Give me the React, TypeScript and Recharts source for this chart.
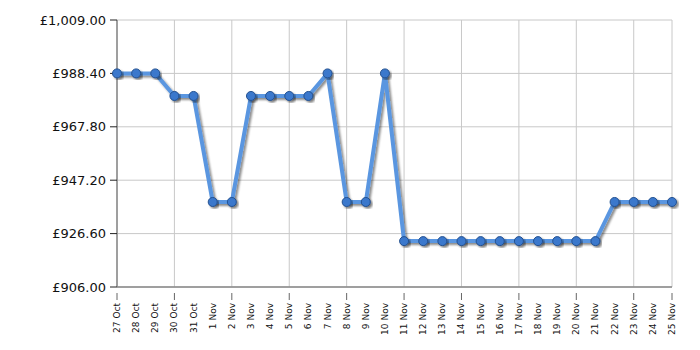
import React from 'react';
import { LineChart, Line, XAxis, YAxis, CartesianGrid } from 'recharts';

const dates = [
  '27 Oct', '28 Oct', '29 Oct', '30 Oct', '31 Oct',
  '1 Nov', '2 Nov', '3 Nov', '4 Nov', '5 Nov', '6 Nov', '7 Nov', '8 Nov', '9 Nov', '10 Nov',
  '11 Nov', '12 Nov', '13 Nov', '14 Nov', '15 Nov', '16 Nov', '17 Nov', '18 Nov', '19 Nov', '20 Nov',
  '21 Nov', '22 Nov', '23 Nov', '24 Nov', '25 Nov',
];

const prices = [
  988.4, 988.4, 988.4, 979.7, 979.7,
  938.8, 938.8, 979.7, 979.7, 979.7, 979.7, 988.4, 938.8, 938.8, 988.4,
  923.7, 923.7, 923.7, 923.7, 923.7, 923.7, 923.7, 923.7, 923.7, 923.7,
  923.7, 938.8, 938.8, 938.8, 938.8,
];

const yTicks = [906, 926.6, 947.2, 967.8, 988.4, 1009];

const data = dates.map((d, i) => ({ date: d, price: prices[i] }));

const fmt = (v: number) =>
  '£' + v.toLocaleString('en-GB', { minimumFractionDigits: 2, maximumFractionDigits: 2 });

const XTick = (props: any) => {
  const { x, y, payload, index } = props;
  return (
    <g>
      {index % 3 === 0 || index === dates.length - 1 ? (
        <line x1={x} y1={y - 2} x2={x} y2={y + 5} stroke="#666" strokeWidth={1} />
      ) : null}
      <text
        x={x}
        y={y + 8}
        transform={`rotate(-90, ${x}, ${y + 8})`}
        textAnchor="end"
        dominantBaseline="central"
        fontSize={9}
        fontFamily="DejaVu Sans, Verdana, sans-serif"
        fill="#111"
      >
        {payload.value}
      </text>
    </g>
  );
};

export default function App() {
  return (
    <div style={{ position: 'relative', width: 692, height: 342 }}>
      <svg width={0} height={0} style={{ position: 'absolute' }}>
        <defs>
          <filter id="lineShadow" x="-10%" y="-10%" width="130%" height="130%">
            <feDropShadow dx={2} dy={2} stdDeviation={1} floodColor="#000" floodOpacity={0.45} />
          </filter>
        </defs>
      </svg>
      <LineChart
        width={692}
        height={342}
        data={data}
        margin={{ top: 12, right: 28, bottom: 0, left: 0 }}
      >
        <CartesianGrid
          stroke="#c8c8c8"
          strokeWidth={1}
          verticalCoordinatesGenerator={({ offset }: any) => {
            const step = offset.width / (dates.length - 1);
            const pts: number[] = [];
            for (let i = 0; i < dates.length; i += 3) pts.push(offset.left + i * step);
            pts.push(offset.left + offset.width);
            return pts;
          }}
        />
        <XAxis
          dataKey="date"
          interval={0}
          height={63}
          tickLine={false}
          axisLine={{ stroke: '#888', strokeWidth: 1.5 }}
          tick={<XTick />}
        />
        <YAxis
          width={109}
          domain={[906, 1009]}
          ticks={yTicks}
          tickFormatter={fmt}
          tickSize={7}
          tickMargin={4}
          tickLine={{ stroke: '#222' }}
          axisLine={{ stroke: '#888', strokeWidth: 1.5 }}
          tick={{ fontSize: 13, fill: '#111', fontFamily: 'DejaVu Sans, Verdana, sans-serif' }}
          allowDataOverflow
        />
        <Line
          type="linear"
          dataKey="price"
          stroke="#5a96e0"
          strokeWidth={4}
          isAnimationActive={false}
          style={{ filter: 'url(#lineShadow)' }}
          dot={{ r: 4.5, fill: '#3a78cc', stroke: '#24508f', strokeWidth: 1 }}
          activeDot={false}
        />
      </LineChart>
    </div>
  );
}
